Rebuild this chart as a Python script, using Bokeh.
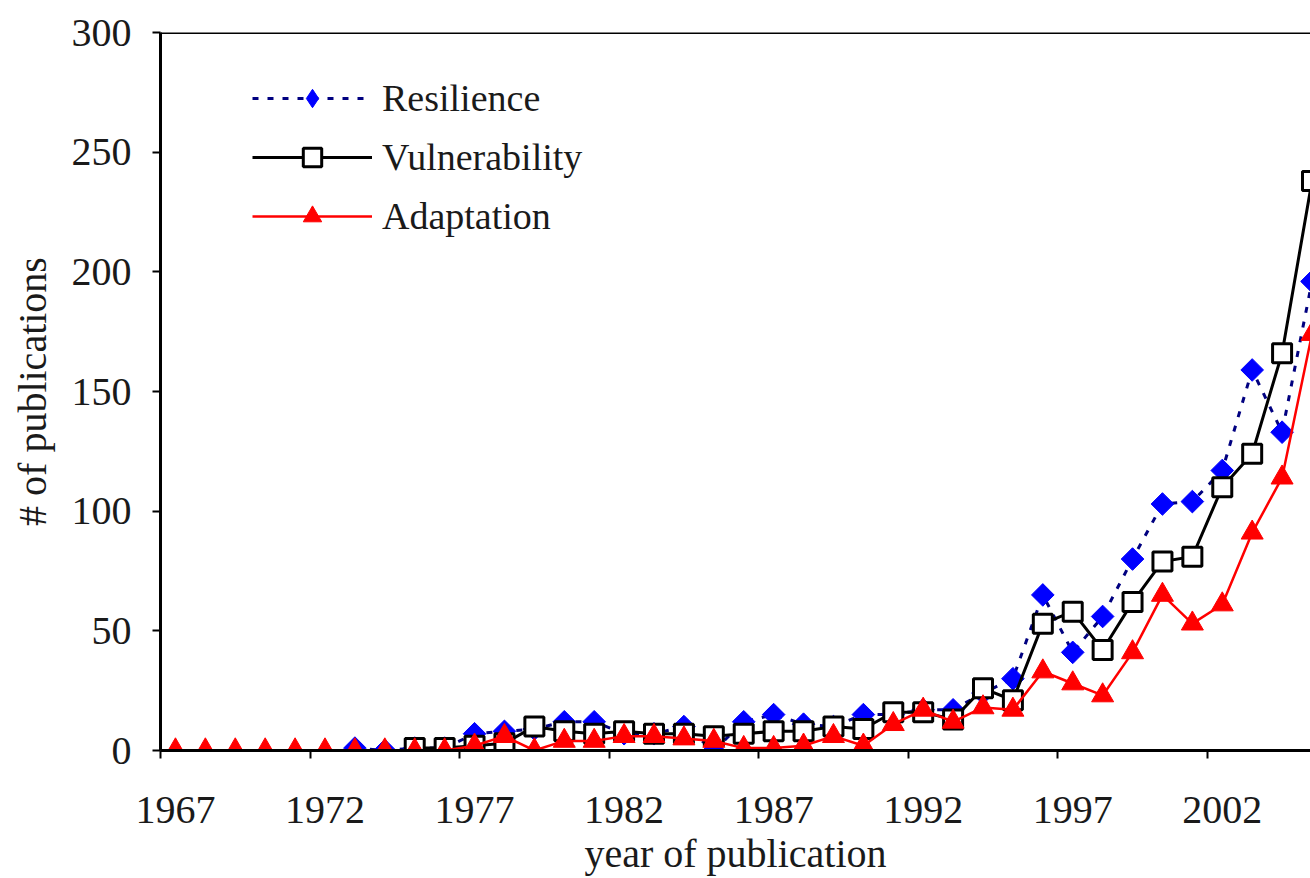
import numpy as np
from bokeh.plotting import figure
from bokeh.models import FixedTicker, LinearAxis, Range1d, Legend, LegendItem, Span
from bokeh.embed import file_html
from bokeh.resources import INLINE

# ---------------- data ----------------
years = list(range(1967, 2006))
label_years = [1967, 1972, 1977, 1982, 1987, 1992, 1997, 2002]
y_ticks = [0, 50, 100, 150, 200, 250, 300]

resilience = [None] * 6 + [1, 0, 1, 1, 7, 8, 9, 12, 12, 7, 7, 10, 0, 12, 15, 11, 10, 15, 15,
                           17, 17, 24, 30, 65, 41, 56, 80, 103, 104, 117, 159, 133, 196]
vulnerability = [None] * 8 + [1, 1, 2, 3, 10, 8, 7, 8, 7, 7, 6, 7, 8, 8, 10, 9, 16, 16, 13,
                              26, 21, 53, 58, 42, 62, 79, 81, 110, 124, 166, 238]
adaptation = [0] * 10 + [2, 6, 0, 4, 4, 6, 6, 5, 4, 1, 1, 2, 6, 2, 11, 17, 12, 18, 17, 33,
                         28, 23, 41, 65, 53, 61, 91, 114, 174]


def arr(v):
    return np.array([np.nan if x is None else x for x in v], dtype=float)


FONT = "Liberation Serif"
TXT = "#1a1a1a"
x = np.array(years, dtype=float)

p = figure(width=1310, height=878, output_backend="svg", toolbar_location=None,
           x_range=Range1d(years[0] - 0.5, years[-1] - 0.05), y_range=Range1d(0, 300),
           x_axis_type=None, y_axis_type=None,
           min_border_left=160, min_border_top=32, min_border_right=0, min_border_bottom=126)
p.outline_line_color = None
p.xgrid.visible = False
p.ygrid.visible = False
p.background_fill_color = "white"
p.border_fill_color = "white"

# y axis
yaxis = LinearAxis(ticker=FixedTicker(ticks=y_ticks, minor_ticks=[]))
yaxis.axis_line_width = 3
yaxis.axis_line_color = "black"
yaxis.major_tick_line_width = 2
yaxis.major_tick_in = 0
yaxis.major_tick_out = 8
yaxis.minor_tick_line_color = None
yaxis.major_label_text_font = FONT
yaxis.major_label_text_font_size = "40px"
yaxis.major_label_text_color = TXT
yaxis.major_label_standoff = 21
yaxis.axis_label = "# of publications"
yaxis.axis_label_text_font = FONT
yaxis.axis_label_text_font_size = "40px"
yaxis.axis_label_text_font_style = "normal"
yaxis.axis_label_text_color = TXT
yaxis.axis_label_standoff = 14
p.add_layout(yaxis, "left")

# x axis: labels at category centres, tick marks (minor) between categories
boundaries = [yy - 0.5 for yy in label_years]
xaxis = LinearAxis(ticker=FixedTicker(ticks=label_years, minor_ticks=boundaries))
xaxis.axis_line_width = 3
xaxis.axis_line_color = "black"
xaxis.major_tick_line_color = None
xaxis.major_tick_in = 0
xaxis.major_tick_out = 0
xaxis.minor_tick_line_color = "black"
xaxis.minor_tick_line_width = 2
xaxis.minor_tick_in = 0
xaxis.minor_tick_out = 8
xaxis.major_label_text_font = FONT
xaxis.major_label_text_font_size = "40px"
xaxis.major_label_text_color = TXT
xaxis.major_label_standoff = 38
xaxis.axis_label = "year of publication"
xaxis.axis_label_text_font = FONT
xaxis.axis_label_text_font_size = "40px"
xaxis.axis_label_text_font_style = "normal"
xaxis.axis_label_text_color = TXT
xaxis.axis_label_standoff = 5
p.add_layout(xaxis, "below")

# top border of the plot area
p.add_layout(Span(location=300, dimension="width", line_color="black", line_width=3))

# series
r_line = p.line(x, arr(resilience), line_color="#000080", line_width=3, line_dash="6 9")
# legend key (legend glyphs are never rotated); hidden beneath the rotated squares
r_key = p.scatter(x, arr(resilience), marker="diamond", size=15,
                  fill_color="#0000ff", line_color="#0000ff", line_width=1)
r_pts = p.scatter(x, arr(resilience), marker="square", angle=np.pi / 4, size=16,
                  fill_color="#0000ff", line_color="#0000ff", line_width=1)

v_line = p.line(x, arr(vulnerability), line_color="black", line_width=3)
v_pts = p.scatter(x, arr(vulnerability), marker="square", size=19,
                  fill_color="white", line_color="black", line_width=3)

a_line = p.line(x, arr(adaptation), line_color="#ff0000", line_width=2.5)
a_pts = p.scatter(x, arr(adaptation), marker="triangle", size=22,
                  fill_color="#ff0000", line_color="#ff0000", line_width=1)

legend = Legend(items=[
    LegendItem(label="Resilience", renderers=[r_line, r_key]),
    LegendItem(label="Vulnerability", renderers=[v_line, v_pts]),
    LegendItem(label="Adaptation", renderers=[a_line, a_pts]),
], location=(92, 511))
legend.padding = 0
legend.margin = 0
legend.spacing = 13
legend.glyph_width = 120
legend.glyph_height = 46
legend.label_height = 46
legend.label_standoff = 10
legend.label_text_font = FONT
legend.label_text_font_size = "38px"
legend.label_text_color = TXT
legend.border_line_color = None
legend.background_fill_alpha = 0
p.add_layout(legend)

open("out.html", "w").write(file_html(p, INLINE))
